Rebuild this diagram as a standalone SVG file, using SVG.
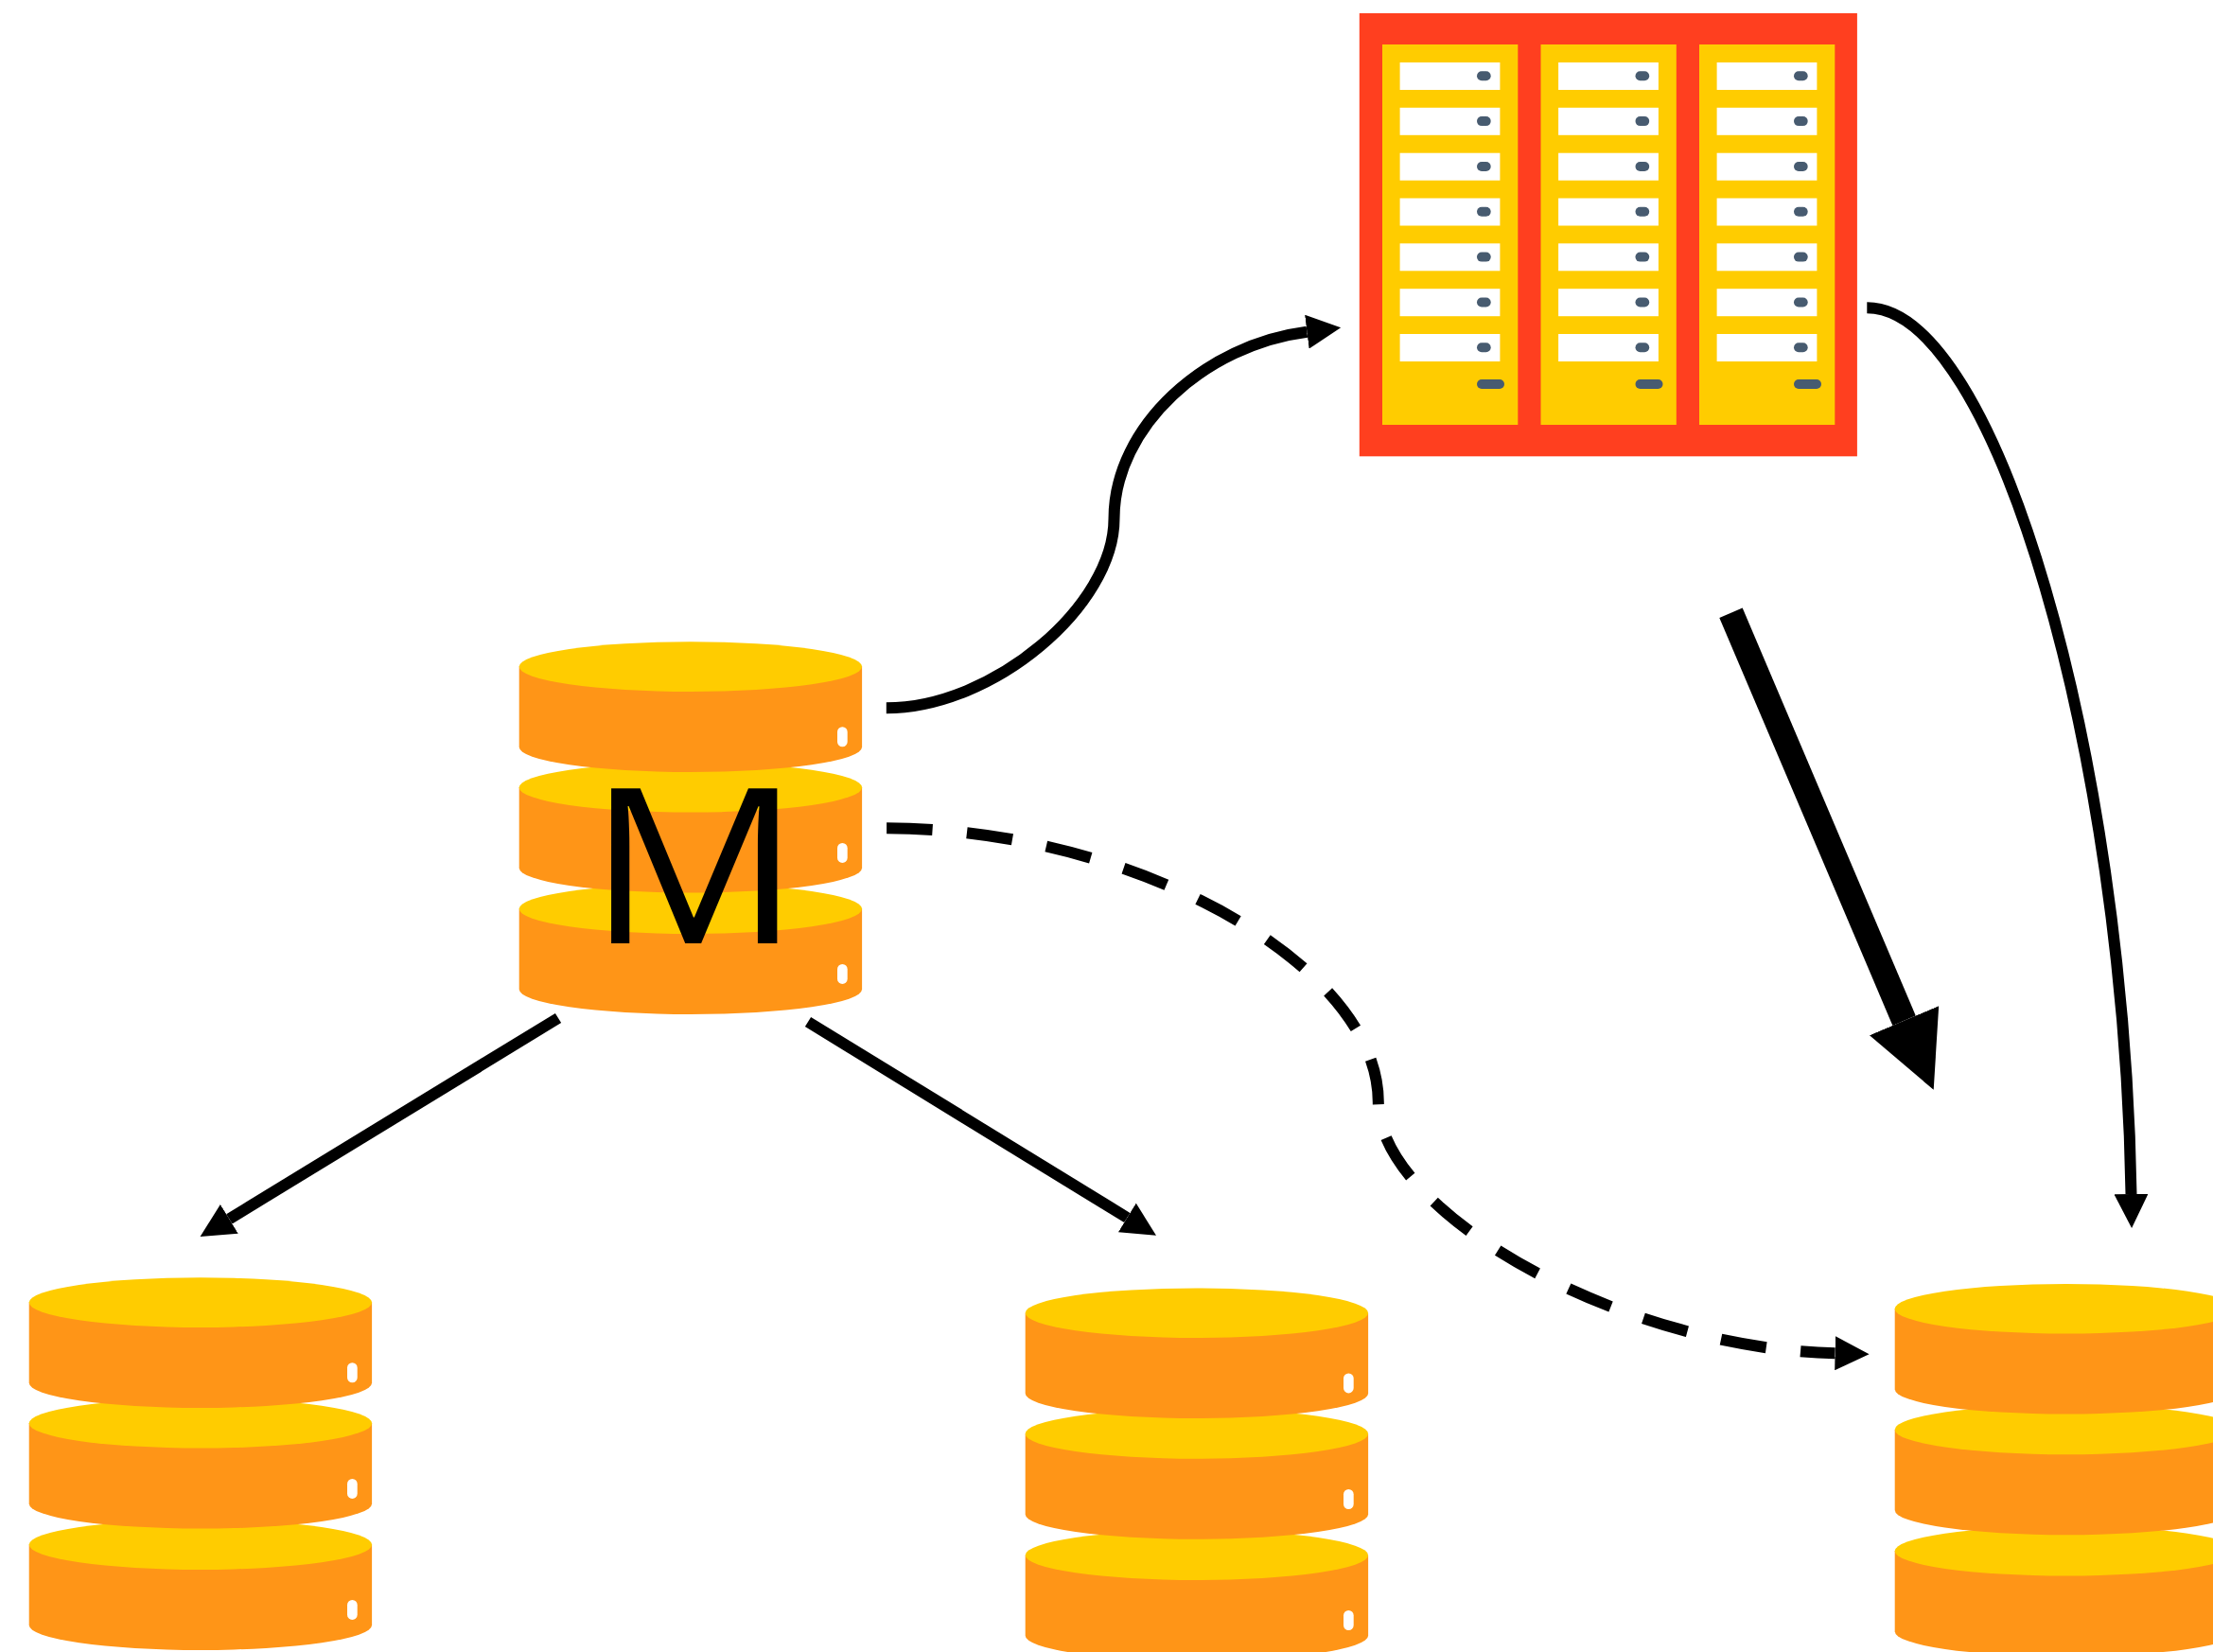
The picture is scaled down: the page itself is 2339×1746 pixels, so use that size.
<svg xmlns="http://www.w3.org/2000/svg" width="2339" height="1746" viewBox="0 0 2339 1746">
<style>
.side{fill:#FF9517}.top{fill:#FFCC00}.hole{fill:#FFFFFF}.frame{fill:#FF3F1F}.slot{fill:#FFFFFF}.led{fill:#475B70}
.edge{fill:none;stroke:#000;stroke-width:12;marker-end:url(#head)}
.dash{stroke-dasharray:48.5 36.5}
.heavy{stroke-width:26.5}
.label{font-family:"Open Sans","Liberation Sans",sans-serif;font-size:229px;fill:#000;text-anchor:middle}
</style>
<defs>
<marker id="head" markerUnits="strokeWidth" markerWidth="3" markerHeight="3" refX="0" refY="1.5" orient="auto" viewBox="0 0 3 3"><path d="M0 0L3 1.5L0 3Z" fill="#000"/></marker>
<g id="disk"><path class="side" d="M0 0V85A181.2 26.3 0 0 0 362.4 85V0Z"/><ellipse class="top" cx="181.2" cy="0" rx="181.2" ry="26.3"/></g>
<g id="stack">
<use href="#disk" y="256"/><use href="#disk" y="127.7"/><use href="#disk" y="0"/>
<rect class="hole" x="336.3" y="63.7" width="10.7" height="21" rx="5.3"/>
<rect class="hole" x="336.3" y="186.3" width="10.7" height="21" rx="5.3"/>
<rect class="hole" x="336.3" y="314.3" width="10.7" height="21" rx="5.3"/>
</g>
<g id="row"><rect class="slot" width="105.8" height="29"/><rect class="led" x="81.4" y="9.3" width="14.7" height="10" rx="5"/></g>
<g id="col">
<rect class="top" x="-18.6" y="-19" width="143.3" height="402"/>
<use href="#row" y="0"/><use href="#row" y="47.8"/><use href="#row" y="95.7"/><use href="#row" y="143.5"/><use href="#row" y="191.3"/><use href="#row" y="239.2"/><use href="#row" y="287"/>
<rect class="led" x="81.4" y="335" width="29" height="10" rx="5"/>
</g>
</defs>
<rect width="2339" height="1746" fill="#FFFFFF"/>
<g id="rack">
<rect class="frame" x="1436.8" y="14" width="526.1" height="468.3"/>
<use href="#col" x="1479.6" y="66"/><use href="#col" x="1647.1" y="66"/><use href="#col" x="1814.6" y="66"/>
</g>
<g id="db-master" transform="translate(548.7 704.6)">
<use href="#stack"/>
<text class="label" transform="translate(185.1 292) scale(1.087 1)">M</text>
</g>
<g id="db-left" transform="translate(30.7 1376.6)"><use href="#stack"/></g>
<g id="db-middle" transform="translate(1083.7 1387.7)"><use href="#stack"/></g>
<g id="db-right" transform="translate(2002.7 1383.3)"><use href="#stack"/></g>
<g id="connectors">
<path class="edge" d="M936.8 748.3C1050 748.3 1177.5 640 1177.5 548.3C1177.5 450 1275 364 1381.4 350.7"/>
<path class="edge" d="M1973.3 325.3C2110 325.3 2245 800 2252.5 1262"/>
<path class="edge dash" d="M937.1 875.3C1200 875.3 1456.8 1020 1456.8 1165C1456.8 1280 1710 1425 1939.6 1430.3"/>
<path class="edge" d="M590 1076L242.3 1288.3"/>
<path class="edge" d="M854 1080L1191.3 1287"/>
<path class="edge heavy" d="M1829.5 647.7L2012.6 1078.7"/>
</g>
</svg>
